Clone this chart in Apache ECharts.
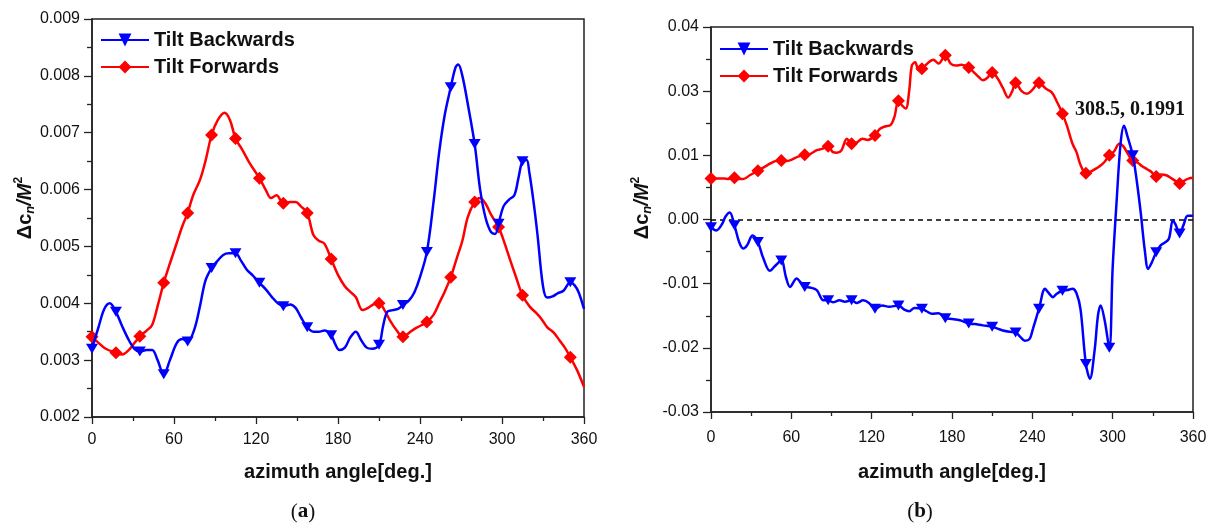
<!DOCTYPE html>
<html>
<head>
<meta charset="utf-8">
<script src="https://cdn.jsdelivr.net/npm/echarts@6/dist/echarts.min.js"></script>
<style>
html,body{margin:0;padding:0;background:#fff;}
#chart{width:1213px;height:525px;}
</style>
</head>
<body>
<div id="chart"></div>
<script>
// ---------- DATA ----------
const seriesNames = ['Tilt Backwards', 'Tilt Forwards'];
const xTickLabels = ['0', '60', '120', '180', '240', '300', '360'];
const yTickLabelsA = ['0.002', '0.003', '0.004', '0.005', '0.006', '0.007', '0.008', '0.009'];
const yTickLabelsB = ['-0.03', '-0.02', '-0.01', '0.00', '0.01', '0.03', '0.04'];
const annotationText = '308.5, 0.1991';

// (a) Tilt Backwards
const aBackAngles = [0,5,9,13,17.5,22,27,31,35,40,44,48,52.5,57,62,66,70,75,79,83,87.5,92,96,100,105,109,113,118,122.5,127,132,136,140,145,149,153,157.5,162,166,170,175,178,181,185,189,193,197,201,205,210,213,216,220,224,227.5,232,236,240,245,250,254,258,262.5,266,268,271,275,280,284,288,292,295,297.5,301,305,309,312,315,318,320,323,326,330,333,337,341,345,350,353,356,360];
const aBackValues = [0.00320,0.00360,0.00390,0.00400,0.00385,0.00360,0.00335,0.00320,0.00315,0.00318,0.00318,0.00300,0.00275,0.00300,0.00330,0.00337,0.00333,0.00355,0.00395,0.00440,0.00462,0.00475,0.00485,0.00488,0.00488,0.00475,0.00460,0.00448,0.00436,0.00425,0.00410,0.00400,0.00395,0.00398,0.00392,0.00375,0.00358,0.00350,0.00350,0.00352,0.00344,0.00328,0.00318,0.00322,0.00340,0.00350,0.00335,0.00322,0.00320,0.00327,0.00360,0.00385,0.00388,0.00390,0.00397,0.00405,0.00420,0.00446,0.00490,0.00580,0.00665,0.00730,0.00780,0.00815,0.00820,0.00800,0.00750,0.00680,0.00600,0.00550,0.00525,0.00522,0.00540,0.00570,0.00582,0.00590,0.00620,0.00650,0.00652,0.00630,0.00580,0.00520,0.00430,0.00410,0.00412,0.00418,0.00422,0.00437,0.00432,0.00420,0.00390];

// (a) Tilt Forwards
const aFwdAngles = [0,5,10,17.5,22,27,31,35,40,44,48,52.5,57,62,66,70,74,79,83,87.5,92,97,101,105,110,115,122.5,127,131,135,140,145,149,153,157.5,162,166,170,175,180,185,189,193,198,202,206,210,214,218,223,227.5,232,236,240,245,250,254,258,262.5,267,271,275,280,284,288,292,297.5,302,306,310,315,320,325,329,333,338,342,346,350,355,360];
const aFwdValues = [0.00341,0.00330,0.00320,0.00313,0.00310,0.00318,0.00330,0.00342,0.00352,0.00362,0.00395,0.00436,0.00470,0.00506,0.00535,0.00559,0.00590,0.00617,0.00650,0.00696,0.00722,0.00735,0.00722,0.00690,0.00670,0.00648,0.00620,0.00600,0.00585,0.00590,0.00576,0.00578,0.00578,0.00570,0.00559,0.00520,0.00510,0.00505,0.00478,0.00450,0.00430,0.00420,0.00411,0.00388,0.00392,0.00398,0.00400,0.00388,0.00370,0.00352,0.00341,0.00348,0.00355,0.00360,0.00367,0.00380,0.00400,0.00420,0.00446,0.00480,0.00510,0.00552,0.00578,0.00585,0.00575,0.00556,0.00534,0.00505,0.00476,0.00448,0.00414,0.00395,0.00383,0.00372,0.00358,0.00348,0.00335,0.00322,0.00305,0.00282,0.00253];

// (b) Tilt Backwards (axis positions)
const bBackAngles = [0,4,8,11,14,17.5,21,24,27,31,35,39,44,48,52.5,56,59,64,67,70,74,79,84,87.5,91,96,100,105,109,113.6,118,122.5,128,133,140,144,148,152,157.5,161,165,170,175,180,186,192.5,197,203,210,214,218,223,227.5,231,234.5,238,240.5,245,249.5,252,255.5,258,262.5,266,270,273,276,280,283,286.5,289,291,294,297.5,300,303,306,308.5,311,315,318,321,324,326.5,329,332.5,336,339,342,345,347,350,353,356,360];
const bBackValues = [-0.0012,-0.0017,-0.0008,0.0005,0.0011,-0.0009,-0.0035,-0.0045,-0.0040,-0.0025,-0.0035,-0.0060,-0.0080,-0.0072,-0.0064,-0.0090,-0.0105,-0.0092,-0.0098,-0.0105,-0.0106,-0.0110,-0.0126,-0.0126,-0.0129,-0.0126,-0.0128,-0.0126,-0.0130,-0.0126,-0.0130,-0.0139,-0.0134,-0.0136,-0.0134,-0.0140,-0.0143,-0.0138,-0.0139,-0.0143,-0.0147,-0.0146,-0.0154,-0.0155,-0.0157,-0.0162,-0.0163,-0.0165,-0.0167,-0.0170,-0.0173,-0.0175,-0.0176,-0.0183,-0.0189,-0.0186,-0.0170,-0.0139,-0.0108,-0.0114,-0.0121,-0.0116,-0.0111,-0.0110,-0.0108,-0.0115,-0.0140,-0.0225,-0.0248,-0.0204,-0.0150,-0.0134,-0.0157,-0.0200,-0.0075,0.0030,0.0120,0.0146,0.0130,0.0100,0.0060,0.0010,-0.0048,-0.0077,-0.0068,-0.0051,-0.0040,-0.0036,-0.0030,-0.0001,-0.0008,-0.0022,-0.0008,0.0006,0.0006];

// (b) Tilt Forwards (axis positions)
const bFwdAngles = [0,5,10,13,17.5,21,24,29,35,40,44,48,52.5,56,60,65,70,74,79,83,87.5,91,94,97.5,101.5,105,109,113,117,122.5,126,130,134,137,140,143,145.5,148,150,152.5,155,157.5,161,166,170,175,179,183,187,192.5,196,200,203,206,210,214,218,222,225,227.5,232,236,240,245,250,254.5,258,262.5,266,270,273,276,280,284,288,291,294,297.5,301,305,308,312,315,319,322,326,329,332.5,336,340,344,347,350,353,357,360];
const bFwdValues = [0.0064,0.0064,0.0064,0.0063,0.0065,0.0063,0.0063,0.0069,0.0076,0.0082,0.0087,0.0091,0.0092,0.0091,0.0093,0.0098,0.0101,0.0102,0.0108,0.0110,0.0114,0.0105,0.0104,0.0108,0.0126,0.0118,0.0120,0.0126,0.0124,0.0131,0.0141,0.0145,0.0147,0.0160,0.0185,0.0177,0.0173,0.0200,0.0240,0.0245,0.0233,0.0235,0.0242,0.0249,0.0243,0.0256,0.0243,0.0240,0.0241,0.0237,0.0230,0.0222,0.0217,0.0220,0.0229,0.0220,0.0205,0.0190,0.0200,0.0213,0.0200,0.0196,0.0202,0.0213,0.0204,0.0198,0.0185,0.0165,0.0145,0.0118,0.0105,0.0085,0.0072,0.0075,0.0080,0.0084,0.0090,0.0100,0.0106,0.0118,0.0114,0.0100,0.0092,0.0088,0.0083,0.0078,0.0074,0.0067,0.0070,0.0069,0.0064,0.0060,0.0056,0.0060,0.0064,0.0065];

// ---------- CHART ----------
const MARKER_STEP = 17.5;
function isMarker(a) { const r = a / MARKER_STEP; return Math.abs(r - Math.round(r)) < 1e-6; }
function build(angles, values) {
  return angles.map((a, i) => isMarker(a) ? { value: [a, values[i]] } : { value: [a, values[i]], symbol: 'none' });
}

const BLUE = '#0000ff', RED = '#ff0000', AX = '#222';
const FONT = 'Arial, "Liberation Sans", Helvetica, sans-serif';
const SERIF = '"Times New Roman", "Liberation Serif", serif';

function xAxisCfg(gi, margin) {
  return {
    gridIndex: gi, type: 'value', min: 0, max: 360, interval: 60,
    axisLine: { show: true, onZero: false, lineStyle: { color: AX, width: 1.5 } },
    axisTick: { show: true, inside: false, length: 7, lineStyle: { color: AX, width: 1.3 } },
    minorTick: { show: true, splitNumber: 2, length: 4, lineStyle: { color: AX, width: 1.3 } },
    splitLine: { show: false },
    axisLabel: { fontSize: 16, color: '#111', fontFamily: FONT, margin: margin,
      formatter: v => xTickLabels[Math.round(v / 60)] }
  };
}
function yAxisCfg(gi, min, max, interval, labels) {
  return {
    gridIndex: gi, type: 'value', min: min, max: max, interval: interval,
    axisLine: { show: true, onZero: false, lineStyle: { color: AX, width: 1.5 } },
    axisTick: { show: true, inside: false, length: 8, lineStyle: { color: AX, width: 1.3 } },
    minorTick: { show: true, splitNumber: 2, length: 5, lineStyle: { color: AX, width: 1.3 } },
    splitLine: { show: false },
    axisLabel: { fontSize: 16, color: '#111', fontFamily: FONT, margin: 12,
      formatter: v => labels[Math.round((v - min) / interval)] }
  };
}
function lineSeries(name, xi, data, color, isBack) {
  return {
    name: name, type: 'line', xAxisIndex: xi, yAxisIndex: xi, data: data,
    smooth: 0.35, showSymbol: true, showAllSymbol: true,
    symbol: isBack ? 'triangle' : 'diamond',
    symbolRotate: isBack ? 180 : 0,
    symbolSize: isBack ? [12, 10] : [13, 13],
    itemStyle: { color: color },
    lineStyle: { color: color, width: 2.5 },
    emphasis: { disabled: true },
    z: isBack ? 3 : 2
  };
}
function legendCfg(left, top) {
  return {
    orient: 'vertical', left: left, top: top, itemWidth: 48, itemHeight: 16, itemGap: 7,
    data: seriesNames, selectedMode: false,
    textStyle: { fontSize: 20, fontWeight: 'bold', color: '#111', fontFamily: FONT, lineHeight: 20 }
  };
}
function textEl(x, y, text, font, rotation) {
  return { type: 'text', x: x, y: y, rotation: rotation || 0,
    style: { text: text, font: font, fill: '#111', align: 'center', verticalAlign: 'middle' } };
}
function yTitle(x, y) {
  return { type: 'text', x: x, y: y, rotation: Math.PI / 2,
    style: {
      text: '{b|Δc}{s|n}{i|/M}{p|2}', align: 'center', verticalAlign: 'middle', fill: '#111',
      rich: {
        b: { fontSize: 20, fontWeight: 'bold', fontFamily: FONT, lineHeight: 24, verticalAlign: 'middle' },
        s: { fontSize: 13, fontWeight: 'bold', fontStyle: 'italic', fontFamily: FONT, lineHeight: 24, verticalAlign: 'bottom' },
        i: { fontSize: 20, fontWeight: 'bold', fontStyle: 'italic', fontFamily: FONT, lineHeight: 24, verticalAlign: 'middle' },
        p: { fontSize: 12, fontWeight: 'bold', fontFamily: FONT, lineHeight: 24, verticalAlign: 'top' }
      }
    } };
}
function panelLabel(x, y, letter) {
  return { type: 'text', x: x, y: y,
    style: { text: '{n|(}{b|' + letter + '}{n|)}', align: 'center', verticalAlign: 'middle', fill: '#111',
      rich: { n: { fontSize: 21, fontFamily: SERIF }, b: { fontSize: 21, fontWeight: 'bold', fontFamily: SERIF } } } };
}

const chart = echarts.init(document.getElementById('chart'), null, { renderer: 'canvas' });
const backB = lineSeries(seriesNames[0], 1, build(bBackAngles, bBackValues), BLUE, true);
backB.markLine = { silent: true, symbol: ['none', 'none'], label: { show: false }, z: 1,
  lineStyle: { color: '#000', type: [5, 4], width: 1.5 }, data: [{ yAxis: 0 }] };

chart.setOption({
  animation: false,
  backgroundColor: '#fff',
  grid: [
    { left: 92, top: 19, width: 492, height: 398, show: true, borderColor: AX, borderWidth: 1.5, backgroundColor: 'transparent' },
    { left: 711, top: 27, width: 482, height: 385, show: true, borderColor: AX, borderWidth: 1.5, backgroundColor: 'transparent' }
  ],
  xAxis: [xAxisCfg(0, 15), xAxisCfg(1, 18)],
  yAxis: [yAxisCfg(0, 0.002, 0.009, 0.001, yTickLabelsA), yAxisCfg(1, -0.03, 0.03, 0.01, yTickLabelsB)],
  legend: [legendCfg(95, 25), legendCfg(714, 34)],
  series: [
    lineSeries(seriesNames[0], 0, build(aBackAngles, aBackValues), BLUE, true),
    lineSeries(seriesNames[1], 0, build(aFwdAngles, aFwdValues), RED, false),
    backB,
    lineSeries(seriesNames[1], 1, build(bFwdAngles, bFwdValues), RED, false)
  ],
  graphic: [
    textEl(338, 472, 'azimuth angle[deg.]', 'bold 20px ' + FONT),
    textEl(952, 472, 'azimuth angle[deg.]', 'bold 20px ' + FONT),
    yTitle(25, 208),
    yTitle(642, 208),
    panelLabel(303, 512, 'a'),
    panelLabel(920, 512, 'b'),
    { type: 'text', x: 1075, y: 110, style: { text: annotationText, font: 'bold 20px ' + SERIF, fill: '#111', align: 'left', verticalAlign: 'middle' } }
  ]
});
</script>
</body>
</html>
